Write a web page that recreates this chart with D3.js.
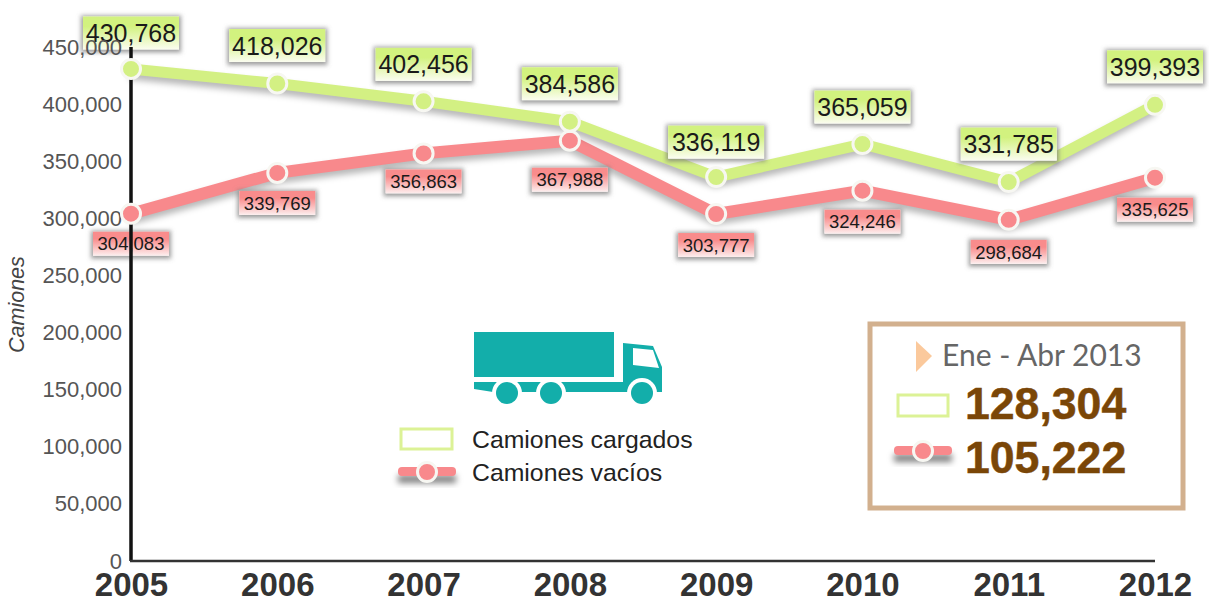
<!DOCTYPE html>
<html><head><meta charset="utf-8">
<script src="https://cdnjs.cloudflare.com/ajax/libs/d3/7.8.5/d3.min.js"></script>
<style>html,body{margin:0;padding:0;background:#fff}svg{display:block}text{font-family:"Liberation Sans",Arial,sans-serif}</style>
</head><body><svg id="c" width="1209" height="603"></svg>
<script>
const years = [2005,2006,2007,2008,2009,2010,2011,2012];
const cargados = [430768,418026,402456,384586,336119,365059,331785,399393];
const vacios = [304083,339769,356863,367988,303777,324246,298684,335625];
const yTicks = [0,50000,100000,150000,200000,250000,300000,350000,400000,450000];
const seriesNames = ["Camiones cargados","Camiones vacíos"];
const inset = {title:"Ene - Abr 2013", cargados:128304, vacios:105222};
// label placement: pixel offset from the point to the label-box centre
const cargadosDy = [-36,-38,-37,-38,-35,-37,-38,-38];
const vaciosDy = [30,30,28,39,31,31,32,32];

const svg = d3.select("#c");
const fmt = d3.format(",");
const x = d3.scalePoint().domain(years).range([131,1155]);
const y = d3.scaleLinear().domain([0,450000]).range([561,47]);

const defs = svg.append("defs");
const blur = (id,s)=>defs.append("filter").attr("id",id).attr("x","-30%").attr("y","-60%").attr("width","160%").attr("height","220%")
  .append("feGaussianBlur").attr("stdDeviation",s);
blur("b3",3); blur("b4",4); blur("b2",2.2);
const grad=(id,a,b)=>{const g=defs.append("linearGradient").attr("id",id).attr("x1",0).attr("y1",0).attr("x2",0).attr("y2",1);
  g.append("stop").attr("offset","0.3").attr("stop-color",a);g.append("stop").attr("offset","1").attr("stop-color",b);};
grad("gG","#d2f27f","#fbfdf0"); grad("gR","#f98c8c","#fdeeee");

// series lines
const line = d3.line().x((d,i)=>x(years[i])).y(d=>y(d));
const redC="#f8898c", greenC="#d3f083";
function seriesLine(vals,color,sw){
  svg.append("path").attr("d",line(vals)).attr("fill","none").attr("stroke","#000").attr("stroke-opacity",.28).attr("stroke-width",sw)
    .attr("transform","translate(-1,5)").attr("filter","url(#b3)");
  svg.append("path").attr("d",line(vals)).attr("fill","none").attr("stroke",color).attr("stroke-width",sw).attr("stroke-linejoin","round");
}
seriesLine(vacios,redC,12);
seriesLine(cargados,greenC,11);

function labels(vals,dy,w,h,fs,fill){
  const g = svg.selectAll(null).data(vals).enter().append("g")
    .attr("transform",(d,i)=>`translate(${x(years[i])},${y(d)+dy[i]})`);
  g.append("rect").attr("x",-w/2).attr("y",-h/2).attr("width",w).attr("height",h).attr("fill","#777").attr("fill-opacity",.7).attr("filter","url(#b2)").attr("transform","translate(0,1)")
    .attr("stroke","#777").attr("stroke-opacity",.5).attr("stroke-width",5);
  g.append("rect").attr("x",-w/2).attr("y",-h/2).attr("width",w).attr("height",h).attr("fill","#fff");
  g.append("rect").attr("x",-w/2).attr("y",-h/2).attr("width",w).attr("height",h).attr("fill",`url(#${fill})`);
  return g;
}
const gG = labels(cargados,cargadosDy,96,33,25,"gG");
const gR = labels(vacios,vaciosDy,76,24,18.5,"gR");

// axes sit over the label boxes, as in the reference
const yAxis = d3.axisLeft(y).tickValues(yTicks).tickFormat(fmt).tickSize(0).tickPadding(9);
const gy = svg.append("g").attr("transform","translate(131,0)").call(yAxis);
gy.select(".domain").attr("d","M0,47V561").attr("stroke","#111").attr("stroke-width",3.5);
gy.selectAll("text").attr("font-size",22).attr("fill","#555").style("font-family",'"Liberation Sans",Arial,sans-serif');
const xAxis = d3.axisBottom(x).tickFormat(d3.format("d")).tickSize(0).tickPadding(12);
const gx = svg.append("g").attr("transform","translate(0,561)").call(xAxis);
gx.select(".domain").attr("d","M130,0H1155").attr("stroke","#333").attr("stroke-width",2.5);
gx.selectAll("text").attr("font-size",33).attr("font-weight","bold").attr("fill","#333").style("font-family",'"Liberation Sans",Arial,sans-serif');
svg.append("text").attr("transform","translate(24,353) rotate(-90)").attr("font-size",21.5).attr("font-style","italic").attr("fill","#444").text("Camiones");

// value text and points above the axis
gG.append("text").attr("text-anchor","middle").attr("y",25*.36).attr("font-size",25).attr("fill","#1a1a1a").text(d=>fmt(d));
gR.append("text").attr("text-anchor","middle").attr("y",18.5*.36).attr("font-size",18.5).attr("fill","#1a1a1a").text(d=>fmt(d));
function points(vals,color){
  svg.selectAll(null).data(vals).enter().append("circle").attr("cx",(d,i)=>x(years[i])).attr("cy",d=>y(d)).attr("r",9.5)
    .attr("fill",color).attr("stroke","#f7f7f2").attr("stroke-width",3);
}
points(vacios,redC);
points(cargados,greenC);

// truck
const teal="#13aeaa";
const t = svg.append("g").attr("fill",teal);
t.append("rect").attr("x",474).attr("y",332).attr("width",140).attr("height",45);
t.append("path").attr("d","M623,343L653,346L662,367V392H623Z");
t.append("path").attr("d","M474,382H630V392H493L474,389Z");
t.append("path").attr("d","M633,348L653,350L659,368L633,365Z").attr("fill","#fff");
[[507,393],[551,393],[642,393]].forEach(([cx,cy])=>{
  svg.append("circle").attr("cx",cx).attr("cy",cy).attr("r",15).attr("fill","#fff");
  svg.append("circle").attr("cx",cx).attr("cy",cy).attr("r",11).attr("fill",teal);
});

// legend keys
function keyGreen(px,py,w,h){svg.append("rect").attr("x",px).attr("y",py).attr("width",w).attr("height",h).attr("fill","#fff").attr("stroke","#dcf296").attr("stroke-width",3);}
function keyRed(px,py,w){
  svg.append("rect").attr("x",px).attr("y",py+3).attr("width",w).attr("height",8).attr("fill","#000").attr("fill-opacity",.5).attr("filter","url(#b3)");
  svg.append("rect").attr("x",px).attr("y",py-5).attr("width",w).attr("height",9).attr("rx",4).attr("fill",redC);
  svg.append("circle").attr("cx",px+w/2).attr("cy",py).attr("r",9.5).attr("fill",redC).attr("stroke","#f7f7f2").attr("stroke-width",3);
}
keyGreen(401,429,51,20);
keyRed(398,472,58);
svg.append("text").attr("x",472).attr("y",448).attr("font-size",24.8).attr("fill","#222").text(seriesNames[0]);
svg.append("text").attr("x",472).attr("y",481).attr("font-size",24.8).attr("fill","#222").text(seriesNames[1]);

// inset
svg.append("rect").attr("x",870).attr("y",324).attr("width",313).attr("height",184).attr("fill","#fff").attr("stroke","#d2b08e").attr("stroke-width",5);
svg.append("path").attr("d","M916,341L932,356L916,372Z").attr("fill","#fbc99c");
svg.append("text").attr("x",942).attr("y",366).attr("font-size",30).attr("fill","#666").style("font-family",'"Lato",sans-serif').text(inset.title);
keyGreen(898,395,50,21);
keyRed(894,451,58);
svg.append("text").attr("x",965).attr("y",419).attr("font-size",44.6).attr("font-weight","bold").attr("fill","#7a4607").attr("stroke","#7a4607").attr("stroke-width",.5).text(fmt(inset.cargados));
svg.append("text").attr("x",965).attr("y",473).attr("font-size",44.6).attr("font-weight","bold").attr("fill","#7a4607").attr("stroke","#7a4607").attr("stroke-width",.5).text(fmt(inset.vacios));
</script></body></html>
